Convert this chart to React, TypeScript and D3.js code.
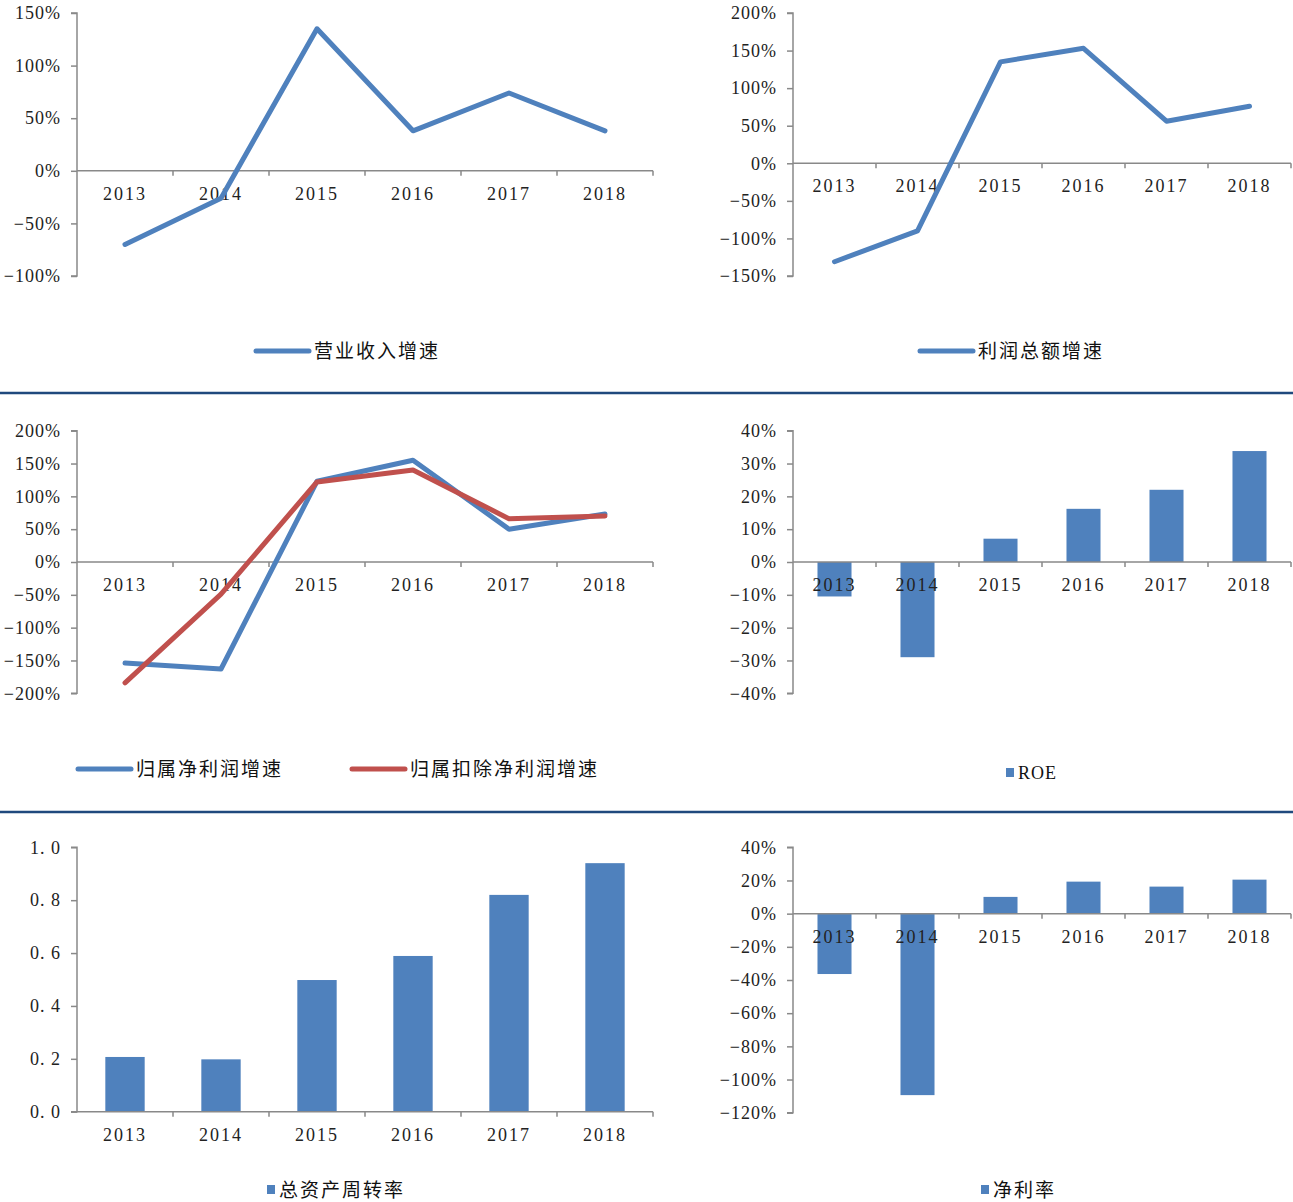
import React, { useEffect, useRef } from "react";
import * as d3 from "d3";

// categories
const years = ["2013", "2014", "2015", "2016", "2017", "2018"];

// series values (%, or ratio for turnover)
const revenueGrowth = [-70, -26, 135, 38, 74, 38];
const profitGrowth = [-131, -90, 135, 153, 56, 76];
const netProfitGrowth = [-154, -163, 123, 155, 50, 73];
const deductedProfitGrowth = [-184, -49, 122, 140, 66, 70];
const roe = [-10.5, -29, 7.1, 16.2, 22, 33.8];
const assetTurnover = [0.207, 0.198, 0.498, 0.589, 0.82, 0.94];
const netMargin = [-36.4, -109.4, 10.1, 19.3, 16.3, 20.5];

// tick values
const ticksRevenue = [-100, -50, 0, 50, 100, 150];
const ticksProfit = [-150, -100, -50, 0, 50, 100, 150, 200];
const ticksNet = [-200, -150, -100, -50, 0, 50, 100, 150, 200];
const ticksRoe = [-40, -30, -20, -10, 0, 10, 20, 30, 40];
const ticksTurnover = [0, 0.2, 0.4, 0.6, 0.8, 1.0];
const ticksMargin = [-120, -100, -80, -60, -40, -20, 0, 20, 40];

const BLUE = "#4F81BD";
const RED = "#C0504D";
const AXIS = "#898989";
const NUM_FONT = "Liberation Serif";
const CJK_FONT = "Noto Sans CJK SC";

type Series = { name: string; values: number[]; color: string };
type Panel = {
	kind: "line" | "bar";
	left: number;
	right: number;
	top: number;
	bottom: number;
	ticks: number[];
	fmt: (v: number) => string;
	series: Series[];
	legend: { x: number; y: number }[];
};

const pct = (v: number) => (v < 0 ? "\u2212" + Math.abs(v) : String(v)) + "%";
const dec = (v: number) => v.toFixed(1).replace(".", ". ");

const panels: Panel[] = [
	{
		kind: "line", left: 77, right: 653, top: 13, bottom: 276,
		ticks: ticksRevenue, fmt: pct,
		series: [{ name: "营业收入增速", values: revenueGrowth, color: BLUE }],
		legend: [{ x: 256, y: 351 }],
	},
	{
		kind: "line", left: 793, right: 1291, top: 13, bottom: 276,
		ticks: ticksProfit, fmt: pct,
		series: [{ name: "利润总额增速", values: profitGrowth, color: BLUE }],
		legend: [{ x: 920, y: 351 }],
	},
	{
		kind: "line", left: 77, right: 653, top: 430.7, bottom: 693.3,
		ticks: ticksNet, fmt: pct,
		series: [
			{ name: "归属净利润增速", values: netProfitGrowth, color: BLUE },
			{ name: "归属扣除净利润增速", values: deductedProfitGrowth, color: RED },
		],
		legend: [{ x: 78, y: 769 }, { x: 352, y: 769 }],
	},
	{
		kind: "bar", left: 793, right: 1291, top: 430.7, bottom: 693.3,
		ticks: ticksRoe, fmt: pct,
		series: [{ name: "ROE", values: roe, color: BLUE }],
		legend: [{ x: 1006, y: 773 }],
	},
	{
		kind: "bar", left: 77, right: 653, top: 847.3, bottom: 1111.7,
		ticks: ticksTurnover, fmt: dec,
		series: [{ name: "总资产周转率", values: assetTurnover, color: BLUE }],
		legend: [{ x: 267, y: 1190 }],
	},
	{
		kind: "bar", left: 793, right: 1291, top: 847.3, bottom: 1112.7,
		ticks: ticksMargin, fmt: pct,
		series: [{ name: "净利率", values: netMargin, color: BLUE }],
		legend: [{ x: 981, y: 1190 }],
	},
];

export default function App() {
	const svgRef = useRef<SVGSVGElement | null>(null);

	useEffect(() => {
		document.body.style.margin = "0";
		if (!svgRef.current) return;
		const svg = d3.select(svgRef.current);
		svg.selectAll("*").remove();

		// separators between rows
		[393, 812].forEach((y) => {
			svg.append("line").attr("x1", 0).attr("x2", 1293).attr("y1", y).attr("y2", y)
				.attr("stroke", "#1F497D").attr("stroke-width", 2.5);
		});

		panels.forEach((p) => {
			const g = svg.append("g");
			const yMin = d3.min(p.ticks)!;
			const yMax = d3.max(p.ticks)!;
			const y = d3.scaleLinear().domain([yMin, yMax]).range([p.bottom, p.top]);
			const x = d3.scaleBand().domain(years).range([p.left, p.right]).paddingInner(0.59).paddingOuter(0.295);
			const xc = d3.scalePoint().domain(years).range([p.left, p.right]).padding(0.5);
			const zeroY = y(Math.max(0, yMin));

			// y axis
			const yAxis = g.append("g").attr("transform", `translate(${p.left},0)`)
				.call(d3.axisLeft(y).tickValues(p.ticks).tickSize(6).tickPadding(10).tickFormat((d) => p.fmt(+d)));
			yAxis.attr("font-family", NUM_FONT).attr("font-size", 18);
			yAxis.select(".domain").attr("stroke", AXIS).attr("stroke-width", 1.5).attr("d", `M-6,${p.top}H0V${p.bottom}H-6`);
			yAxis.selectAll(".tick line").attr("stroke", AXIS).attr("stroke-width", 1.5);
			yAxis.selectAll(".tick text")
				.attr("fill", "#222").attr("font-family", NUM_FONT).attr("font-size", 18)
				.style("letter-spacing", "1px");

			// bars
			if (p.kind === "bar") {
				const s = p.series[0];
				g.selectAll("rect.bar").data(s.values).enter().append("rect")
					.attr("class", "bar")
					.attr("x", (_, i) => x(years[i])!)
					.attr("width", x.bandwidth())
					.attr("y", (d) => Math.min(y(d), zeroY))
					.attr("height", (d) => Math.abs(y(d) - zeroY))
					.attr("fill", s.color);
			}

			// x axis at zero
			const step = (p.right - p.left) / years.length;
			g.append("line").attr("x1", p.left).attr("x2", p.right).attr("y1", zeroY).attr("y2", zeroY)
				.attr("stroke", AXIS).attr("stroke-width", 1.5);
			d3.range(1, years.length + 1).forEach((i) => {
				g.append("line").attr("x1", p.left + i * step).attr("x2", p.left + i * step)
					.attr("y1", zeroY).attr("y2", zeroY + 5).attr("stroke", AXIS).attr("stroke-width", 1.5);
			});

			// category labels
			g.selectAll("text.cat").data(years).enter().append("text")
				.attr("class", "cat")
				.attr("x", (d) => xc(d)!)
				.attr("y", zeroY + 29)
				.attr("text-anchor", "middle")
				.attr("fill", "#222")
				.attr("font-family", NUM_FONT).attr("font-size", 18).style("letter-spacing", "2px")
				.text((d) => d);

			// lines
			if (p.kind === "line") {
				p.series.forEach((s) => {
					const line = d3.line<number>().x((_, i) => xc(years[i])!).y((d) => y(d));
					g.append("path").attr("d", line(s.values)!)
						.attr("fill", "none").attr("stroke", s.color).attr("stroke-width", 5)
						.attr("stroke-linejoin", "round").attr("stroke-linecap", "round");
				});
			}

			// legend
			p.series.forEach((s, i) => {
				const L = p.legend[i];
				if (p.kind === "line") {
					g.append("line").attr("x1", L.x).attr("x2", L.x + 53).attr("y1", L.y).attr("y2", L.y)
						.attr("stroke", s.color).attr("stroke-width", 5).attr("stroke-linecap", "round");
					g.append("text").attr("x", L.x + 58).attr("y", L.y + 7)
						.attr("fill", "#111").attr("font-family", CJK_FONT).attr("font-size", 19)
						.style("letter-spacing", "2px").text(s.name);
				} else {
					g.append("rect").attr("x", L.x).attr("y", L.y - 5).attr("width", 8).attr("height", 9).attr("fill", s.color);
					const isLatin = /^[A-Z]+$/.test(s.name);
					g.append("text").attr("x", L.x + 12).attr("y", L.y + (isLatin ? 6 : 7))
						.attr("fill", "#111").attr("font-family", isLatin ? NUM_FONT : CJK_FONT)
						.attr("font-size", isLatin ? 18 : 19)
						.style("letter-spacing", isLatin ? "1px" : "2px").text(s.name);
				}
			});
		});
	}, []);

	return <svg ref={svgRef} width={1293} height={1202} style={{ display: "block", background: "#fff" }} />;
}
